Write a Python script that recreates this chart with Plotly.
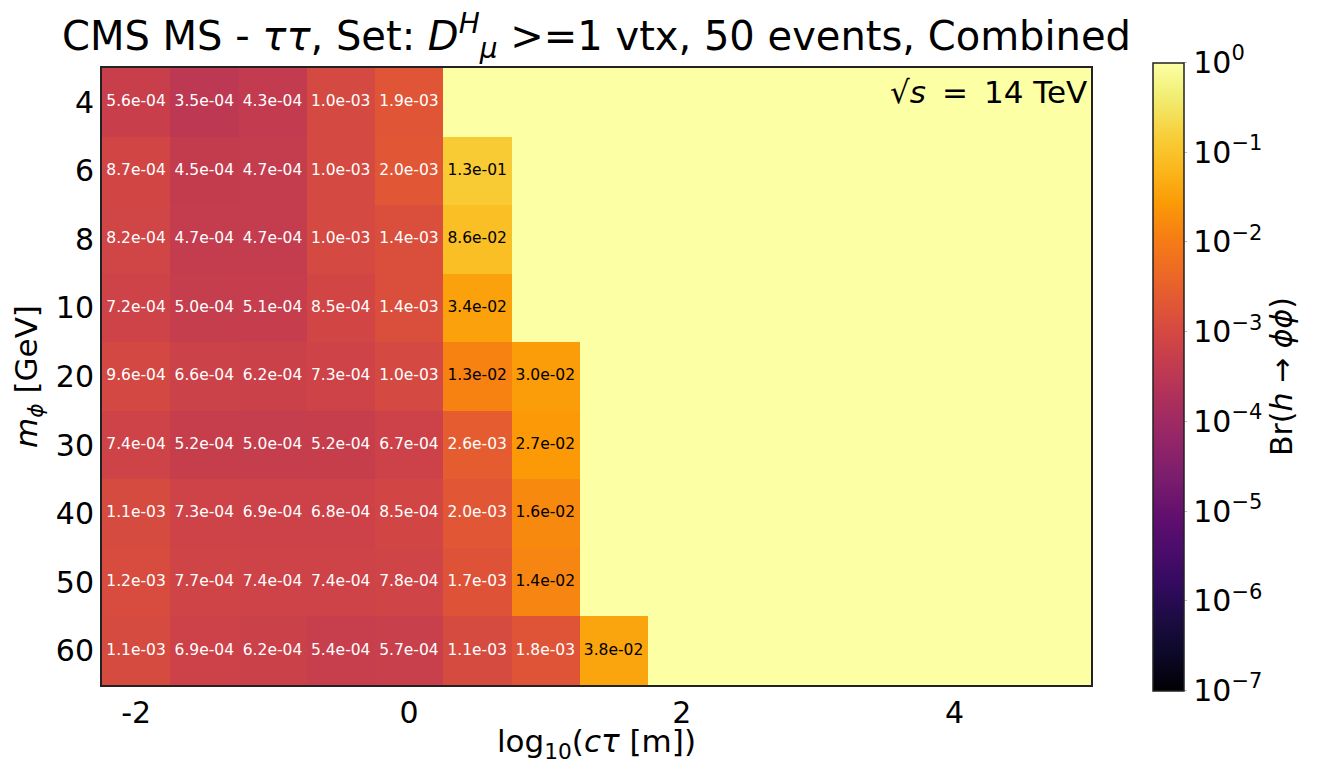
import plotly.graph_objects as go
import numpy as np

# bin centres in log10(c*tau [m]) and the scalar mass rows (GeV)
log_ctau = [-2.0, -1.5, -1.0, -0.5, 0.0, 0.5, 1.0, 1.5]
masses = ['4', '6', '8', '10', '20', '30', '40', '50', '60']

# Br(h -> phi phi) limits per mass row, None = above 1 (yellow)
br_m4 = [5.6e-04, 3.5e-04, 4.3e-04, 1.0e-03, 1.9e-03, None, None, None]
br_m6 = [8.7e-04, 4.5e-04, 4.7e-04, 1.0e-03, 2.0e-03, 1.3e-01, None, None]
br_m8 = [8.2e-04, 4.7e-04, 4.7e-04, 1.0e-03, 1.4e-03, 8.6e-02, None, None]
br_m10 = [7.2e-04, 5.0e-04, 5.1e-04, 8.5e-04, 1.4e-03, 3.4e-02, None, None]
br_m20 = [9.6e-04, 6.6e-04, 6.2e-04, 7.3e-04, 1.0e-03, 1.3e-02, 3.0e-02, None]
br_m30 = [7.4e-04, 5.2e-04, 5.0e-04, 5.2e-04, 6.7e-04, 2.6e-03, 2.7e-02, None]
br_m40 = [1.1e-03, 7.3e-04, 6.9e-04, 6.8e-04, 8.5e-04, 2.0e-03, 1.6e-02, None]
br_m50 = [1.2e-03, 7.7e-04, 7.4e-04, 7.4e-04, 7.8e-04, 1.7e-03, 1.4e-02, None]
br_m60 = [1.1e-03, 6.9e-04, 6.2e-04, 5.4e-04, 5.7e-04, 1.1e-03, 1.8e-03, 3.8e-02]

rows = [br_m4, br_m6, br_m8, br_m10, br_m20, br_m30, br_m40, br_m50, br_m60]

FONT = 'DejaVu Sans'
YELLOW = '#fcffa4'
inferno = ['#000004', '#0c0826', '#1b0c41', '#320a5e', '#4a0c6b', '#610f6e',
           '#781c6d', '#8f2469', '#a52c60', '#bb3754', '#cf4446', '#e05536',
           '#ed6925', '#f67e14', '#fb9b06', '#fbb81d', '#f7d13d', '#f1ed71',
           '#fcffa4']
colorscale = [[i / (len(inferno) - 1), c] for i, c in enumerate(inferno)]

z = [[np.log10(v) if v is not None else None for v in r] for r in rows]

fig = go.Figure()
fig.add_trace(go.Heatmap(
    x=log_ctau, y=masses, z=z,
    zmin=-7, zmax=0, colorscale=colorscale,
    colorbar=dict(
        thickness=31, thicknessmode='pixels',
        len=628, lenmode='pixels',
        x=1.0625, xanchor='left', xpad=0,
        y=0.5, yanchor='middle', ypad=0,
        outlinecolor='#222222', outlinewidth=1.5,
        tickvals=list(range(-7, 1)),
        ticktext=['10<sup>−%d</sup>' % (-k) if k < 0 else '10<sup>0</sup>' for k in range(-7, 1)],
        ticks='outside', ticklen=3, tickcolor='#bbbbbb',
        tickfont=dict(family=FONT, size=30, color='black'),
        title=dict(text='Br(<i>h</i> → <i>ϕϕ</i>)', side='right',
                   font=dict(family=FONT, size=30, color='black')),
    ),
    hovertemplate='cτ=%{x}<br>m=%{y}<extra></extra>',
))

# cell labels: white on dark cells, black on bright ones
for colour, keep in [('white', lambda v: v < 1e-2), ('black', lambda v: v >= 1e-2)]:
    xs, ys, ts = [], [], []
    for m, r in zip(masses, rows):
        for x, v in zip(log_ctau, r):
            if v is not None and keep(v):
                xs.append(x)
                ys.append(m)
                ts.append('%.1e' % v)
    fig.add_trace(go.Scatter(
        x=xs, y=ys, text=ts, mode='text',
        textfont=dict(family=FONT, size=15.5, color=colour),
        showlegend=False, hoverinfo='skip'
    ))

fig.add_annotation(
    text='√<i>s</i>\u2009 = \u200914 TeV', xref='paper', yref='paper',
    x=1, y=1, xanchor='right', yanchor='top', xshift=-2, yshift=-4,
    showarrow=False, font=dict(family=FONT, size=31, color='black')
)

# the page body adds an 8px offset, so the figure is 16px smaller than the window
fig.update_layout(
    width=1304, height=756,
    margin=dict(l=94, r=218, t=60, b=79),
    paper_bgcolor='white', plot_bgcolor=YELLOW,
    showlegend=False,
    font=dict(family=FONT, color='black'),
    title=dict(
        text='CMS MS - <i>ττ</i>, Set: <i>D</i><sup><i>H</i></sup><sub><i>μ</i></sub> >=1 vtx, 50 events, Combined',
        x=0.5, xref='paper', xanchor='center',
        y=1 - 28 / 756, yref='container', yanchor='middle',
        font=dict(family=FONT, size=40, color='black')
    ),
    xaxis=dict(
        range=[-2.25, 5], tickvals=[-2, 0, 2, 4], ticktext=['-2', '0', '2', '4'],
        showgrid=False, zeroline=False, automargin=False,
        showline=True, mirror=True, linecolor='#222222', linewidth=2,
        ticks='',
        tickfont=dict(family=FONT, size=30),
        title=dict(text='log<sub>10</sub>(<i>cτ</i> [m])', standoff=6,
                   font=dict(family=FONT, size=31)),
    ),
    yaxis=dict(
        type='category', categoryorder='array', categoryarray=masses,
        autorange='reversed',
        showgrid=False, zeroline=False, automargin=False,
        showline=True, mirror=True, linecolor='#222222', linewidth=2,
        ticks='',
        tickfont=dict(family=FONT, size=30),
        title=dict(text='<i>m</i><sub><i>ϕ</i></sub> [GeV]', standoff=11,
                   font=dict(family=FONT, size=31)),
    ),
)

fig.write_html('out.html')
